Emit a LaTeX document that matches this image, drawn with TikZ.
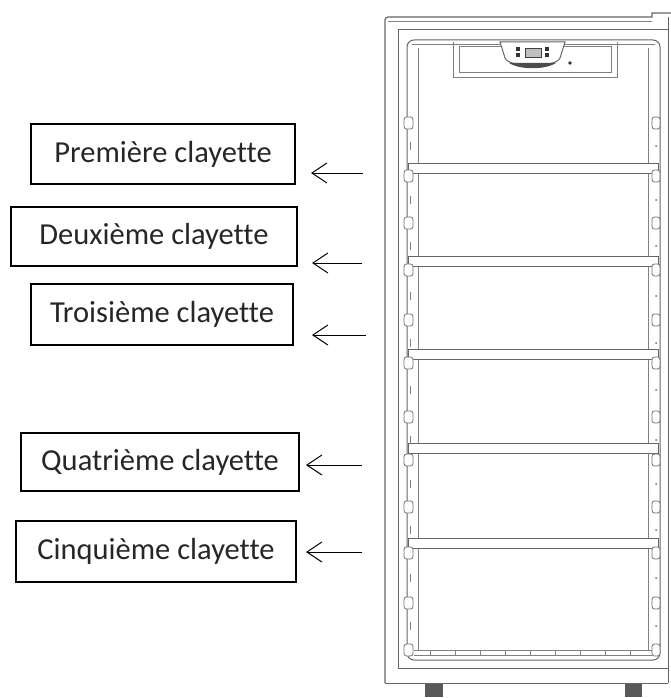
\documentclass[tikz,border=0pt]{standalone}
\usepackage{fontspec}
\setmainfont{Carlito}[Ligatures=NoCommon, RawFeature=-liga]
\usetikzlibrary{arrows.meta}
\begin{document}
\begin{tikzpicture}[x=1pt,y=-1pt,
  lbl/.style={draw=black, line width=1.1pt, inner sep=0pt, outer sep=0pt,
    font=\fontsize{30.5}{32}\selectfont, text=black!85},
  arr/.style={line width=1pt, -{Straight Barb[length=15pt,width=20pt,line width=1pt]}},
  fr/.style={draw=black!60, line width=1pt},
  frt/.style={draw=black!50, line width=0.7pt},
  clip/.style={draw=black!55, line width=0.8pt, fill=white, rounded corners=2.5pt}]
\useasboundingbox (0,0) rectangle (671,698);

% ---------- labels ----------
\node[lbl, minimum width=264pt, minimum height=60pt] (b1) at (163,154) {Première clayette};
\node[lbl, minimum width=286pt, minimum height=59pt] (b2) at (154,236.5) {Deuxième clayette};
\node[lbl, minimum width=262pt, minimum height=61pt] (b3) at (162,314.5) {Troisième clayette};
\node[lbl, minimum width=278pt, minimum height=58pt] (b4) at (160,462) {Quatrième clayette};
\node[lbl, minimum width=280pt, minimum height=61pt] (b5) at (156,551.5) {Cinquième clayette};

% ---------- arrows ----------
\coordinate (t1) at (363,173); \coordinate (h1) at (311,173);
\coordinate (t2) at (362,263); \coordinate (h2) at (312,263);
\coordinate (t3) at (366,335); \coordinate (h3) at (312,335);
\coordinate (t4) at (362,465); \coordinate (h4) at (306,465);
\coordinate (t5) at (362,552); \coordinate (h5) at (306,552);
\foreach \i in {1,...,5} \draw[arr] (t\i) -- (h\i);

% ---------- fridge cabinet ----------
\draw[fr, line width=1.2pt] (385,683) -- (385,20) arc[start angle=180,end angle=90,radius=3pt] -- (652,17) -- (652,13) -- (671,13);
\draw[fr] (385,683) -- (668,683);
\draw[fr] (668,17) -- (668,683);
\draw[frt] (388,21) -- (652,21);
% door frame
\draw[fr] (398,668) -- (398,30) -- (668,30);
\draw[fr] (398,668) -- (668,668);
% liner
\draw[fr, rounded corners=7pt] (407,40) rectangle (660,660);
\draw[frt] (418,48) -- (418,650);
\draw[frt] (648,48) -- (648,650);
\draw[frt] (412,44) -- (655,44);
% bottom rack
\draw[frt] (414,650) -- (652,650);
\draw[frt] (414,655) -- (652,655);
\foreach \x in {430,455,...,640} \draw[frt] (\x,650) -- (\x,655);

% ---------- control panel ----------
\draw[frt] (453,42) -- (453,77) -- (617,77) -- (617,42);
\draw[frt] (459,46) rectangle (611,72);
\draw[fr, fill=white] (500,42) -- (505,58) .. controls (509,68) and (556,68) .. (560,58) -- (565,42) -- cycle;
\fill[black!70] (509,63) .. controls (520,70) and (545,70) .. (556,63) -- cycle;
\fill[black!80] (516,47) rectangle (520,51);
\fill[black!80] (516,53) rectangle (520,57);
\fill[black!80] (545,47) rectangle (549,51);
\fill[black!80] (545,53) rectangle (549,57);
\draw[black!75, fill=black!25, line width=0.7pt] (525,48) rectangle (541,57);
\fill[black!80] (570,63) circle (1.8pt);

% ---------- shelves ----------
\foreach \y in {168,261,354,448,543}
  \draw[fr, fill=white] (408,\y-5) rectangle (658,\y+5);

% ---------- clips ----------
\foreach \y in {123,176,223,270,320,363,417,460,507,553,603,650} {
  \draw[clip] (404,\y-6) rectangle (413,\y+6);
  \draw[clip] (652,\y-6) rectangle (660,\y+6);
}
\foreach \y in {146,200,246,296,343,390,440,484,530,578,626} {
  \draw[frt] (410,\y-4) -- (410,\y+4);
  \fill[black!60] (656,\y) circle (1pt);
}

% ---------- feet ----------
\fill[black!65] (425,684) rectangle (443,697);
\fill[black!65] (625,684) rectangle (642,697);
\end{tikzpicture}
\end{document}
